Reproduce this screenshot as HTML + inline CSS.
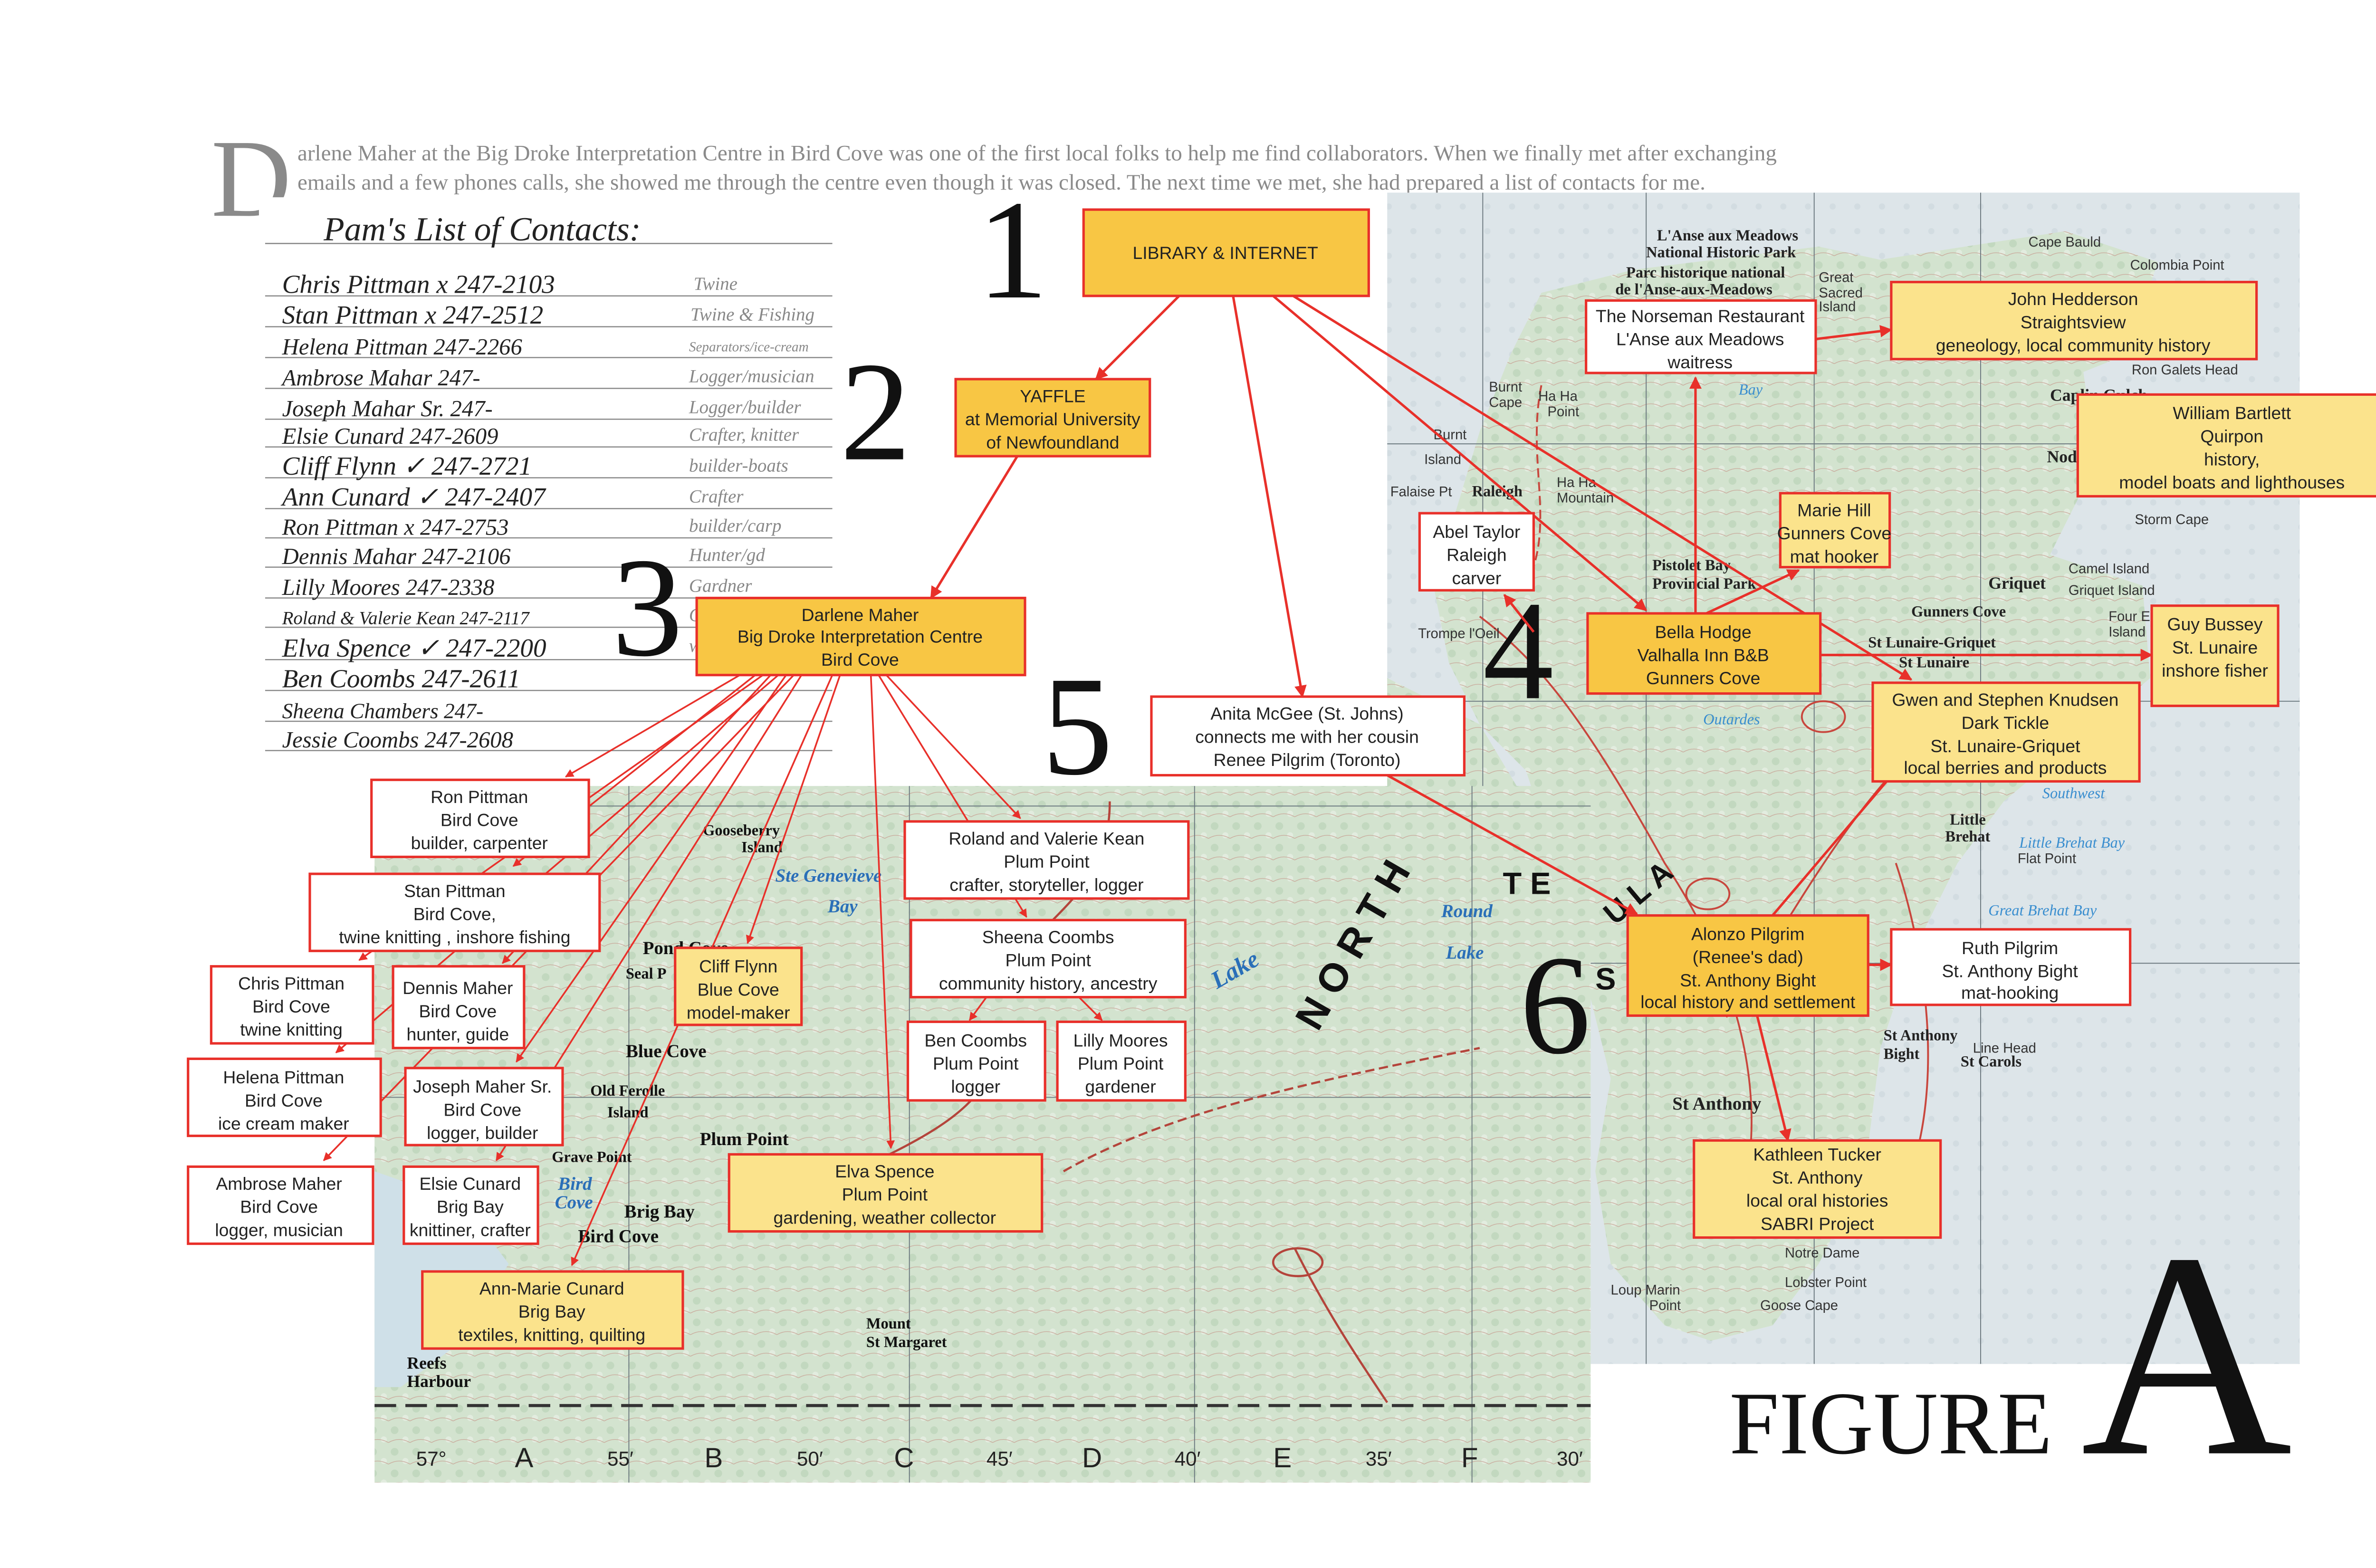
<!DOCTYPE html>
<html><head><meta charset="utf-8"><style>
html,body{margin:0;padding:0;background:#fff;}
svg{display:block}
</style></head><body>
<svg width="5060" height="3300" viewBox="0 0 1560 1017.4" xmlns="http://www.w3.org/2000/svg">
<defs>
<marker id="a" viewBox="0 0 10 10" refX="9" refY="5" markerWidth="5" markerHeight="5" orient="auto-start-reverse"><path d="M0,0L10,5L0,10z" fill="#e8302a"/></marker>
<pattern id="grn" width="14" height="14" patternUnits="userSpaceOnUse"><rect width="14" height="14" fill="#d3e3cf"/><circle cx="4" cy="4" r="2.5" fill="#c2d8bf"/><circle cx="11" cy="10" r="2" fill="#e2ecdf"/><path d="M0,12 Q7,8 14,12" stroke="#c9a89a" stroke-width="0.4" fill="none"/></pattern>
<pattern id="blu" width="16" height="16" patternUnits="userSpaceOnUse"><rect width="16" height="16" fill="#dde5e9"/><circle cx="5" cy="6" r="2" fill="#d2dce1"/></pattern>
</defs>
<rect width="1560" height="1017.4" fill="#fff"/>

<text x="137" y="140" font-family="Liberation Serif,serif" font-size="72" fill="#8a8a8a">D</text>
<g font-family="Liberation Serif,serif" font-size="14.5" fill="#8a8a8a">
<text x="193" y="104">arlene Maher at the Big Droke Interpretation Centre in Bird Cove was one of the first local folks to help me find collaborators. When we finally met after exchanging</text>
<text x="193" y="123">emails and a few phones calls, she showed me through the centre even though it was closed. The next time we met, she had prepared a list of contacts for me.</text>
</g>

<!-- Right map -->
<rect x="900" y="125" width="592" height="760" fill="url(#blu)"/>
<path d="M1000,190 L1060,175 1180,160 1250,175 1300,200 1350,230 1360,300 1330,360 1390,380 1395,440 1300,520 1270,560 1240,620 1220,680 1210,760 1180,820 1150,860 1110,870 1080,860 1045,820 1035,760 1045,700 1030,640 1010,560 990,500 960,470 940,430 930,380 945,330 960,280 980,230 z" fill="url(#grn)"/>
<path d="M1210,170 L1340,150 1400,170 1380,230 1330,250 1280,230 z" fill="url(#grn)"/>
<path d="M900,440 L960,470 990,520 1010,600 1000,700 960,760 900,780 z" fill="url(#grn)"/>
<g stroke="#6d7a80" stroke-width="0.6" fill="none">
<line x1="962" y1="125" x2="962" y2="885"/><line x1="1068" y1="125" x2="1068" y2="885"/><line x1="1177" y1="125" x2="1177" y2="885"/><line x1="1285" y1="125" x2="1285" y2="885"/>
<line x1="900" y1="288" x2="1492" y2="288"/><line x1="900" y1="455" x2="1492" y2="455"/><line x1="900" y1="625" x2="1492" y2="625"/>
</g>
<g stroke="#c8463d" stroke-width="1.2" fill="none">
<path d="M960,400 C1000,430 1030,470 1080,560 1120,620 1150,700 1130,780"/>
<path d="M1120,660 C1160,600 1200,520 1260,470 1300,420 1330,380"/>
<path d="M1230,560 C1250,620 1260,700 1240,760"/>
<path d="M1000,250 C990,300 1010,340 990,380" stroke-dasharray="6 3"/>
<ellipse cx="1183" cy="465" rx="14" ry="10"/><ellipse cx="1108" cy="580" rx="14" ry="10"/>
</g>
<g font-family="Liberation Serif,serif" font-size="10" fill="#222" font-weight="bold">
<text x="1075" y="156">L'Anse aux Meadows</text><text x="1068" y="167">National Historic Park</text>
<text x="1055" y="180">Parc historique national</text><text x="1048" y="191">de l'Anse-aux-Meadows</text>
<text x="1072" y="370">Pistolet Bay</text><text x="1072" y="382">Provincial Park</text>
<text x="1240" y="400">Gunners Cove</text><text x="1212" y="420">St Lunaire-Griquet</text>
<text x="1232" y="433">St Lunaire</text><text x="1265" y="535">Little</text><text x="1262" y="546">Brehat</text>
<text x="1222" y="675">St Anthony</text><text x="1222" y="687">Bight</text><text x="1272" y="692">St Carols</text>
<text x="1085" y="720" font-size="12">St Anthony</text><text x="955" y="322">Raleigh</text>
<text x="1290" y="382" font-size="11">Griquet</text><text x="1330" y="260" font-size="11">Caplin Gulch</text>
<text x="1328" y="300" font-size="11">Noddy Bay</text>
</g>
<g font-family="Liberation Sans,sans-serif" font-size="9" fill="#333">
<text x="1316" y="160">Cape Bauld</text><text x="1382" y="175">Colombia Point</text>
<text x="1180" y="183">Great</text><text x="1180" y="193">Sacred</text><text x="1180" y="202">Island</text>
<text x="966" y="254">Burnt</text><text x="966" y="264">Cape</text><text x="998" y="260">Ha Ha</text><text x="1004" y="270">Point</text>
<text x="930" y="285">Burnt</text><text x="924" y="301">Island</text><text x="902" y="322">Falaise Pt</text>
<text x="1010" y="316">Ha Ha</text><text x="1010" y="326">Mountain</text>
<text x="920" y="414">Trompe l'Oeil</text><text x="1383" y="243">Ron Galets Head</text>
<text x="1385" y="340">Storm Cape</text><text x="1342" y="372">Camel Island</text><text x="1342" y="386">Griquet Island</text>
<text x="1368" y="403">Four Ears</text><text x="1368" y="413">Island</text>
<text x="1309" y="560">Flat Point</text><text x="1280" y="683">Line Head</text>
<text x="1158" y="816">Notre Dame</text><text x="1158" y="835">Lobster Point</text><text x="1142" y="850">Goose Cape</text>
<text x="1045" y="840">Loup Marin</text><text x="1070" y="850">Point</text>
</g>
<g font-family="Liberation Serif,serif" font-style="italic" font-size="10" fill="#3a8ecf">
<text x="1128" y="256">Bay</text><text x="1310" y="550">Little Brehat Bay</text><text x="1290" y="594">Great Brehat Bay</text>
<text x="1105" y="470">Outardes</text><text x="1325" y="518">Southwest</text>
</g>

<!-- Bottom map -->
<rect x="243" y="510" width="789" height="452" fill="url(#grn)"/>
<path d="M243,760 L300,780 330,820 300,870 260,900 243,900 z" fill="#cfe0e8"/>
<g stroke="#6d7a80" stroke-width="0.6" fill="none">
<line x1="243" y1="523" x2="1032" y2="523"/><line x1="243" y1="712" x2="1032" y2="712"/>
<line x1="408" y1="510" x2="408" y2="962"/><line x1="590" y1="510" x2="590" y2="962"/><line x1="775" y1="510" x2="775" y2="962"/><line x1="955" y1="510" x2="955" y2="962"/>
<line x1="243" y1="912" x2="1032" y2="912" stroke="#333" stroke-width="2" stroke-dasharray="14 6"/>
</g>
<g stroke="#b4443b" stroke-width="1.4" fill="none">
<path d="M680,600 C700,580 720,560 720,520"/>
<path d="M640,700 C620,740 540,760 500,790 460,820 420,880"/>
<path d="M690,760 C760,720 860,700 960,680 1000,670 1032,665" stroke-dasharray="6 3"/>
<path d="M840,810 C860,850 880,880 900,910"/>
<ellipse cx="842" cy="819" rx="16" ry="9"/>
</g>
<g font-family="Liberation Serif,serif" font-size="12" fill="#111" font-weight="bold">
<text x="406" y="686">Blue Cove</text><text x="454" y="743">Plum Point</text><text x="405" y="790">Brig Bay</text><text x="375" y="806">Bird Cove</text>
<text x="456" y="542" font-size="10">Gooseberry</text><text x="481" y="553" font-size="10">Island</text>
<text x="417" y="619">Pond Cove</text><text x="406" y="635" font-size="10">Seal P</text>
<text x="383" y="711" font-size="10">Old Ferolle</text><text x="394" y="725" font-size="10">Island</text>
<text x="358" y="754" font-size="10">Grave Point</text><text x="264" y="888" font-size="11">Reefs</text><text x="264" y="900" font-size="11">Harbour</text>
<text x="562" y="862" font-size="10">Mount</text><text x="562" y="874" font-size="10">St Margaret</text>
</g>
<g font-family="Liberation Serif,serif" font-style="italic" font-size="12" fill="#2a6fb8" font-weight="bold">
<text x="503" y="572">Ste Genevieve</text><text x="537" y="592">Bay</text><text x="785" y="635" font-size="16" transform="rotate(-30 800 630)">Lake</text>
<text x="935" y="595">Round</text><text x="938" y="622">Lake</text><text x="362" y="772">Bird</text><text x="360" y="784">Cove</text>
</g>
<g font-family="Liberation Sans,sans-serif" font-size="26" fill="#111" font-weight="bold">
<text x="855" y="670" transform="rotate(-60 855 670)">N O R T H</text>
<text x="975" y="580" font-size="20">T E</text>
<text x="1040" y="600" font-size="20" transform="rotate(-40 1045 590)">U L A</text>
<text x="1035" y="642" font-size="20">S</text>
</g>
<g font-family="Liberation Sans,sans-serif" font-size="18" fill="#222">
<text x="270" y="951" font-size="13">57°</text><text x="334" y="952">A</text><text x="394" y="951" font-size="13">55′</text>
<text x="457" y="952">B</text><text x="517" y="951" font-size="13">50′</text><text x="580" y="952">C</text>
<text x="640" y="951" font-size="13">45′</text><text x="702" y="952">D</text><text x="762" y="951" font-size="13">40′</text>
<text x="826" y="952">E</text><text x="886" y="951" font-size="13">35′</text><text x="948" y="952">F</text><text x="1010" y="951" font-size="13">30′</text>
</g>

<!-- Handwritten list -->
<rect x="168" y="128" width="372" height="362" fill="#fff"/>
<g stroke="#8a8a8a" stroke-width="0.8">
<line x1="172" y1="158" x2="540" y2="158"/><line x1="172" y1="192" x2="540" y2="192"/>
<line x1="172" y1="212" x2="540" y2="212"/><line x1="172" y1="232" x2="540" y2="232"/>
<line x1="172" y1="252" x2="540" y2="252"/><line x1="172" y1="272" x2="540" y2="272"/>
<line x1="172" y1="290" x2="540" y2="290"/><line x1="172" y1="310" x2="540" y2="310"/>
<line x1="172" y1="330" x2="540" y2="330"/><line x1="172" y1="349" x2="540" y2="349"/>
<line x1="172" y1="368" x2="540" y2="368"/><line x1="172" y1="388" x2="540" y2="388"/>
<line x1="172" y1="407" x2="540" y2="407"/><line x1="172" y1="428" x2="540" y2="428"/>
<line x1="172" y1="448" x2="540" y2="448"/><line x1="172" y1="468" x2="540" y2="468"/>
<line x1="172" y1="487" x2="540" y2="487"/>
</g>
<g font-family="Liberation Serif,serif" font-style="italic" fill="#222" font-size="17">
<text x="210" y="156" font-size="22">Pam's   List   of  Contacts:</text>
<text x="183" y="190">Chris Pittman x 247-2103</text>
<text x="183" y="210">Stan Pittman x 247-2512</text>
<text x="183" y="230" font-size="15">Helena Pittman  247-2266</text>
<text x="183" y="250" font-size="15">Ambrose Mahar   247-</text>
<text x="183" y="270" font-size="15">Joseph Mahar Sr.  247-</text>
<text x="183" y="288" font-size="15">Elsie Cunard    247-2609</text>
<text x="183" y="308">Cliff Flynn ✓ 247-2721</text>
<text x="183" y="328">Ann Cunard ✓ 247-2407</text>
<text x="183" y="347" font-size="15">Ron  Pittman x  247-2753</text>
<text x="183" y="366" font-size="15">Dennis Mahar    247-2106</text>
<text x="183" y="386" font-size="15">Lilly Moores    247-2338</text>
<text x="183" y="405" font-size="12">Roland &amp; Valerie Kean 247-2117</text>
<text x="183" y="426">Elva Spence ✓ 247-2200</text>
<text x="183" y="446">Ben Coombs     247-2611</text>
<text x="183" y="466" font-size="14">Sheena Chambers  247-</text>
<text x="183" y="485" font-size="15">Jessie Coombs    247-2608</text>
</g>
<g font-family="Liberation Serif,serif" font-style="italic" fill="#888" font-size="12">
<text x="450" y="188">Twine</text><text x="448" y="208">Twine &amp; Fishing</text><text x="447" y="228" font-size="9">Separators/ice-cream</text>
<text x="447" y="248">Logger/musician</text><text x="447" y="268">Logger/builder</text><text x="447" y="286">Crafter, knitter</text>
<text x="447" y="306">builder-boats</text><text x="447" y="326">Crafter</text><text x="447" y="345">builder/carp</text>
<text x="447" y="364">Hunter/gd</text><text x="447" y="384">Gardner</text><text x="447" y="403">Crafter</text>
<text x="447" y="423">weather</text>
</g>

<g font-family="Liberation Serif,serif" fill="#111" font-size="92">
<text x="634" y="193">1</text><text x="545" y="298">2</text><text x="397" y="425">3</text>
<text x="962" y="453">4</text><text x="676" y="502">5</text><text x="986" y="683">6</text>
</g>
<text x="1122" y="943" font-family="Liberation Serif,serif" font-size="58" fill="#111">FIGURE</text>
<text x="1350" y="943" font-family="Liberation Serif,serif" font-size="190" fill="#111">A</text>

<g stroke="#e8302a" stroke-width="1.6" fill="none" marker-end="url(#a)">
<line x1="765" y1="192" x2="711" y2="246"/>
<line x1="800" y1="192" x2="845" y2="452"/>
<line x1="826" y1="192" x2="1068" y2="396"/>
<line x1="839" y1="192" x2="1240" y2="441"/>
<line x1="660" y1="296" x2="604" y2="388"/>
<line x1="1100" y1="398" x2="1100" y2="245"/>
<line x1="1178" y1="220" x2="1227" y2="214"/>
<line x1="1107" y1="398" x2="1167" y2="370"/>
<line x1="1181" y1="425" x2="1396" y2="425"/>
<line x1="995" y1="410" x2="976" y2="386"/>
<line x1="900" y1="503" x2="1062" y2="593"/>
<line x1="1212" y1="626" x2="1227" y2="626"/>
<line x1="1140" y1="659" x2="1160" y2="740"/>
<line x1="1150" y1="594" x2="1224" y2="507" marker-end="none"/>
</g>
<g stroke="#e8302a" stroke-width="1.1" fill="none" marker-end="url(#a)">
<line x1="480" y1="438" x2="367" y2="504"/>
<line x1="490" y1="438" x2="333" y2="562"/>
<line x1="495" y1="438" x2="233" y2="623"/>
<line x1="500" y1="438" x2="326" y2="625"/>
<line x1="505" y1="438" x2="218" y2="683"/>
<line x1="510" y1="438" x2="335" y2="689"/>
<line x1="515" y1="438" x2="210" y2="753"/>
<line x1="520" y1="438" x2="322" y2="753"/>
<line x1="540" y1="438" x2="371" y2="821"/>
<line x1="545" y1="438" x2="485" y2="612"/>
<line x1="565" y1="438" x2="578" y2="745"/>
<line x1="575" y1="438" x2="662" y2="531"/>
<line x1="570" y1="438" x2="666" y2="595"/>
<line x1="640" y1="647" x2="629" y2="662"/>
<line x1="700" y1="647" x2="715" y2="662"/>
</g>

<g font-family="Liberation Sans,sans-serif" font-size="11.5" fill="#222" text-anchor="middle" stroke-width="1.6">
<rect x="703" y="136" width="185" height="56" fill="#f8c644" stroke="#e8302a"/><text x="795" y="168">LIBRARY &amp; INTERNET</text>
<rect x="620" y="246" width="126" height="50" fill="#f8c644" stroke="#e8302a"/><text x="683" y="261">YAFFLE</text><text x="683" y="276">at Memorial University</text><text x="683" y="291">of Newfoundland</text>
<rect x="452" y="388" width="213" height="50" fill="#f8c644" stroke="#e8302a"/><text x="558" y="403">Darlene Maher</text><text x="558" y="417">Big Droke Interpretation Centre</text><text x="558" y="432">Bird Cove</text>
<rect x="747" y="452" width="203" height="51" fill="#fff" stroke="#e8302a"/><text x="848" y="467">Anita McGee (St. Johns)</text><text x="848" y="482">connects me with her cousin</text><text x="848" y="497">Renee Pilgrim (Toronto)</text>
<rect x="1029" y="195" width="149" height="47" fill="#fff" stroke="#e8302a"/><text x="1103" y="209">The Norseman Restaurant</text><text x="1103" y="224">L'Anse aux Meadows</text><text x="1103" y="239">waitress</text>
<rect x="1227" y="183" width="237" height="50" fill="#fbe38c" stroke="#e8302a"/><text x="1345" y="198">John Hedderson</text><text x="1345" y="213">Straightsview</text><text x="1345" y="228">geneology, local community history</text>
<rect x="1348" y="256" width="202" height="66" fill="#fbe38c" stroke="#e8302a"/><text x="1448" y="272">William Bartlett</text><text x="1448" y="287">Quirpon</text><text x="1448" y="302">history,</text><text x="1448" y="317">model boats and lighthouses</text>
<rect x="1155" y="320" width="71" height="48" fill="#fbe38c" stroke="#e8302a"/><text x="1190" y="335">Marie Hill</text><text x="1190" y="350">Gunners Cove</text><text x="1190" y="365">mat hooker</text>
<rect x="921" y="333" width="74" height="50" fill="#fff" stroke="#e8302a"/><text x="958" y="349">Abel Taylor</text><text x="958" y="364">Raleigh</text><text x="958" y="379">carver</text>
<rect x="1030" y="398" width="151" height="52" fill="#f8c644" stroke="#e8302a"/><text x="1105" y="414">Bella Hodge</text><text x="1105" y="429">Valhalla Inn B&amp;B</text><text x="1105" y="444">Gunners Cove</text>
<rect x="1396" y="393" width="82" height="65" fill="#fbe38c" stroke="#e8302a"/><text x="1437" y="409">Guy Bussey</text><text x="1437" y="424">St. Lunaire</text><text x="1437" y="439">inshore fisher</text>
<rect x="1215" y="443" width="173" height="64" fill="#fbe38c" stroke="#e8302a"/><text x="1301" y="458">Gwen and Stephen Knudsen</text><text x="1301" y="473">Dark Tickle</text><text x="1301" y="488">St. Lunaire-Griquet</text><text x="1301" y="502">local berries and products</text>
<rect x="1056" y="594" width="156" height="65" fill="#f8c644" stroke="#e8302a"/><text x="1134" y="610">Alonzo Pilgrim</text><text x="1134" y="625">(Renee's dad)</text><text x="1134" y="640">St. Anthony Bight</text><text x="1134" y="654">local history and settlement</text>
<rect x="1227" y="603" width="155" height="49" fill="#fff" stroke="#e8302a"/><text x="1304" y="619">Ruth Pilgrim</text><text x="1304" y="634">St. Anthony Bight</text><text x="1304" y="648">mat-hooking</text>
<rect x="1099" y="740" width="160" height="63" fill="#fbe38c" stroke="#e8302a"/><text x="1179" y="753">Kathleen Tucker</text><text x="1179" y="768">St. Anthony</text><text x="1179" y="783">local oral histories</text><text x="1179" y="798">SABRI Project</text>

<rect x="241" y="506" width="141" height="50" fill="#fff" stroke="#e8302a"/><text x="311" y="521">Ron Pittman</text><text x="311" y="536">Bird Cove</text><text x="311" y="551">builder, carpenter</text>
<rect x="201" y="567" width="188" height="50" fill="#fff" stroke="#e8302a"/><text x="295" y="582">Stan Pittman</text><text x="295" y="597">Bird Cove,</text><text x="295" y="612">twine knitting , inshore fishing</text>
<rect x="137" y="627" width="105" height="50" fill="#fff" stroke="#e8302a"/><text x="189" y="642">Chris Pittman</text><text x="189" y="657">Bird Cove</text><text x="189" y="672">twine knitting</text>
<rect x="255" y="627" width="85" height="53" fill="#fff" stroke="#e8302a"/><text x="297" y="645">Dennis Maher</text><text x="297" y="660">Bird Cove</text><text x="297" y="675">hunter, guide</text>
<rect x="122" y="687" width="125" height="50" fill="#fff" stroke="#e8302a"/><text x="184" y="703">Helena Pittman</text><text x="184" y="718">Bird Cove</text><text x="184" y="733">ice cream maker</text>
<rect x="263" y="693" width="102" height="50" fill="#fff" stroke="#e8302a"/><text x="313" y="709">Joseph Maher Sr.</text><text x="313" y="724">Bird Cove</text><text x="313" y="739">logger, builder</text>
<rect x="122" y="757" width="120" height="50" fill="#fff" stroke="#e8302a"/><text x="181" y="772">Ambrose Maher</text><text x="181" y="787">Bird Cove</text><text x="181" y="802">logger, musician</text>
<rect x="262" y="757" width="87" height="50" fill="#fff" stroke="#e8302a"/><text x="305" y="772">Elsie Cunard</text><text x="305" y="787">Brig Bay</text><text x="305" y="802">knittiner, crafter</text>
<rect x="274" y="825" width="169" height="50" fill="#fbe38c" stroke="#e8302a"/><text x="358" y="840">Ann-Marie Cunard</text><text x="358" y="855">Brig Bay</text><text x="358" y="870">textiles, knitting, quilting</text>
<rect x="438" y="615" width="82" height="50" fill="#fbe38c" stroke="#e8302a"/><text x="479" y="631">Cliff Flynn</text><text x="479" y="646">Blue Cove</text><text x="479" y="661">model-maker</text>
<rect x="473" y="749" width="203" height="50" fill="#fbe38c" stroke="#e8302a"/><text x="574" y="764">Elva Spence</text><text x="574" y="779">Plum Point</text><text x="574" y="794">gardening, weather collector</text>
<rect x="587" y="533" width="184" height="50" fill="#fff" stroke="#e8302a"/><text x="679" y="548">Roland and Valerie Kean</text><text x="679" y="563">Plum Point</text><text x="679" y="578">crafter, storyteller, logger</text>
<rect x="591" y="597" width="178" height="50" fill="#fff" stroke="#e8302a"/><text x="680" y="612">Sheena Coombs</text><text x="680" y="627">Plum Point</text><text x="680" y="642">community history, ancestry</text>
<rect x="589" y="663" width="89" height="51" fill="#fff" stroke="#e8302a"/><text x="633" y="679">Ben Coombs</text><text x="633" y="694">Plum Point</text><text x="633" y="709">logger</text>
<rect x="686" y="663" width="83" height="51" fill="#fff" stroke="#e8302a"/><text x="727" y="679">Lilly Moores</text><text x="727" y="694">Plum Point</text><text x="727" y="709">gardener</text>
</g>
</svg>
</body></html>
